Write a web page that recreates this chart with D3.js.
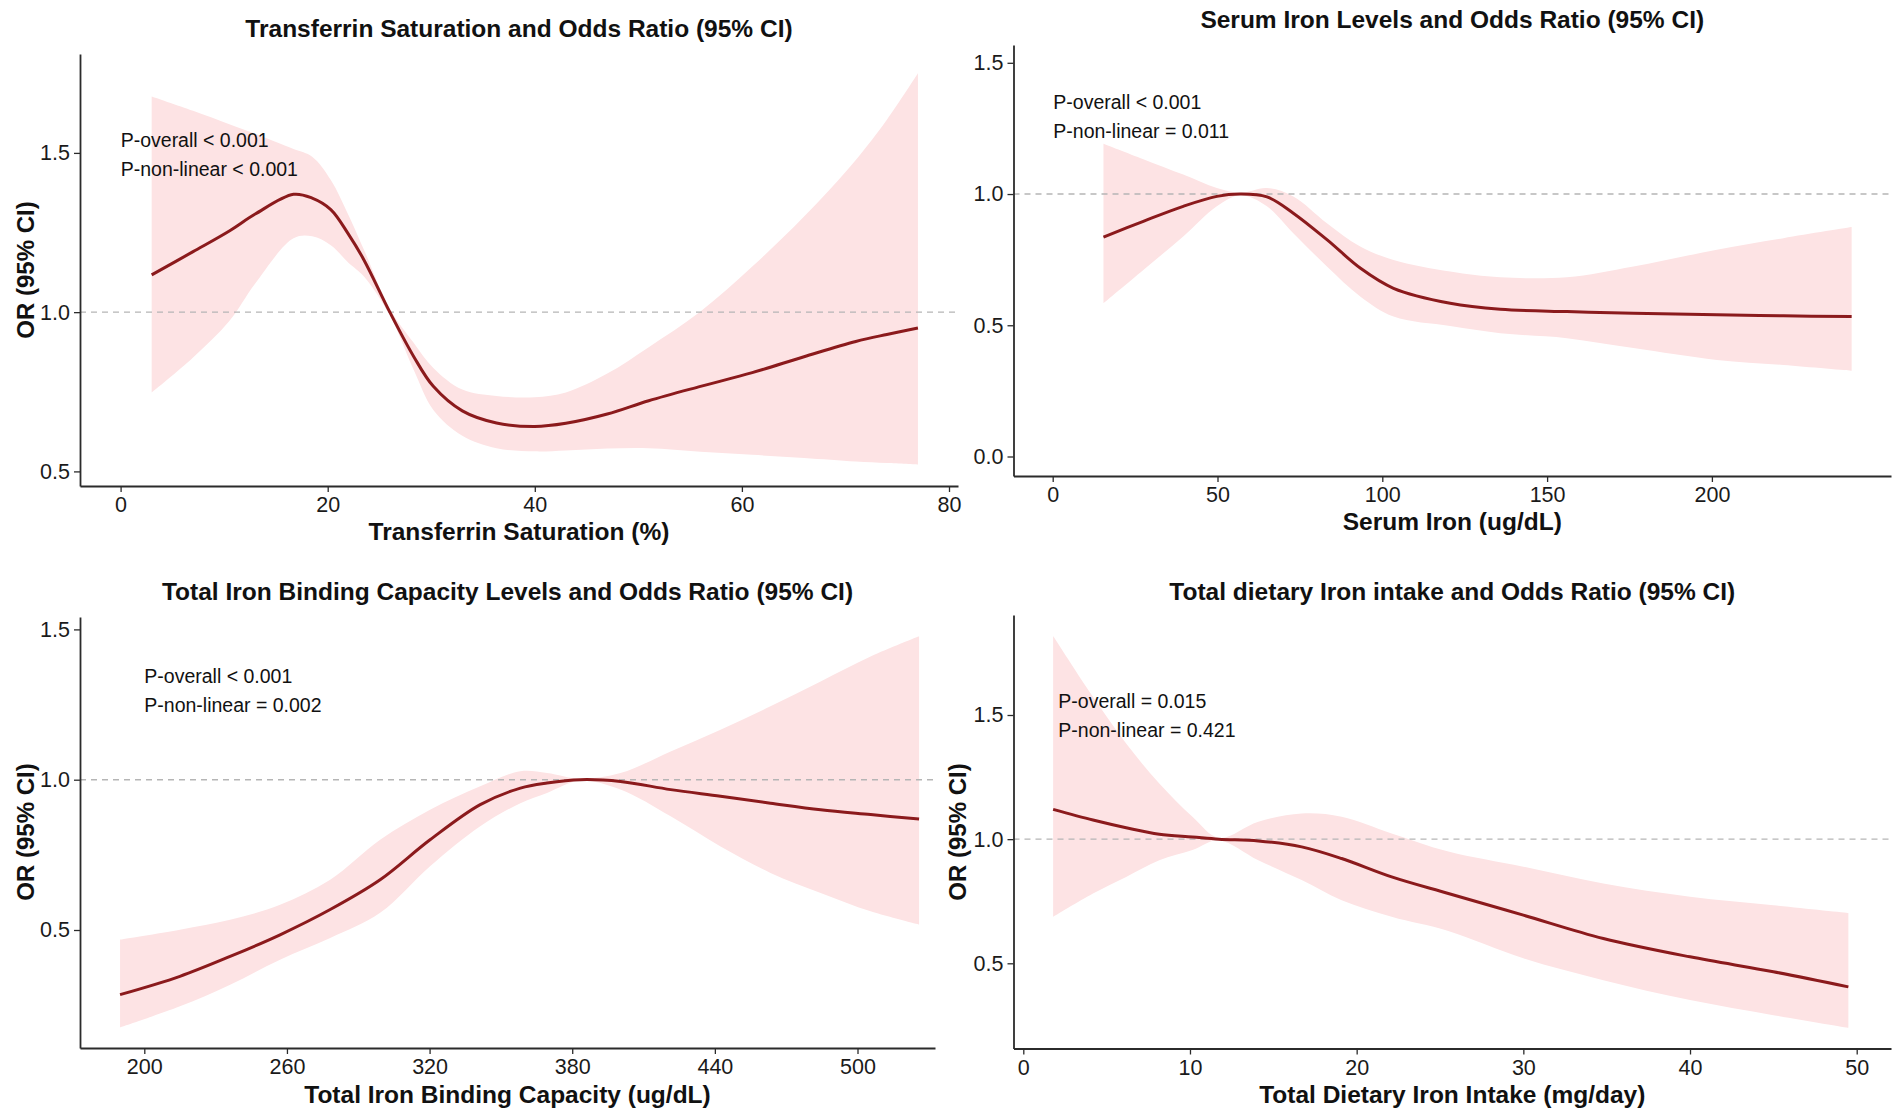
<!DOCTYPE html>
<html><head><meta charset="utf-8">
<script src="https://cdn.jsdelivr.net/npm/d3@7"></script>
<style>
html,body{margin:0;padding:0;background:#fff;}
svg{display:block;}
text{font-family:"Liberation Sans",Arial,Helvetica,sans-serif;}
</style></head>
<body>
<svg id="c" width="1902" height="1118"></svg>
<script>
// ---------- DATA ----------
// Panel 1: Transferrin Saturation
const tsatX     = [3, 7, 10.5, 13, 16.7, 18.5, 20.3, 22, 23.5, 26, 28.3, 30.2, 33, 36.3, 40, 43, 47, 51, 56, 61, 66, 71, 74, 77];
const tsatOR    = [1.117, 1.19, 1.255, 1.308, 1.370, 1.358, 1.322, 1.245, 1.164, 1.0, 0.861, 0.767, 0.690, 0.652, 0.641, 0.651, 0.680, 0.722, 0.767, 0.810, 0.860, 0.908, 0.930, 0.950];
const tsatHi    = [1.677, 1.632, 1.590, 1.560, 1.512, 1.488, 1.415, 1.305, 1.196, 1.01, 0.904, 0.825, 0.757, 0.737, 0.733, 0.748, 0.807, 0.890, 1.002, 1.143, 1.300, 1.478, 1.604, 1.750];
const tsatLo    = [0.748, 0.858, 0.972, 1.09, 1.232, 1.238, 1.210, 1.155, 1.112, 0.99, 0.819, 0.693, 0.612, 0.573, 0.563, 0.566, 0.572, 0.573, 0.562, 0.552, 0.542, 0.531, 0.526, 0.521];
const tsatXTicks = [0, 20, 40, 60, 80];
const tsatYTicks = [0.5, 1.0, 1.5];

// Panel 2: Serum Iron
const sfeX  = [15.4, 27.5, 39.6, 49.8, 57, 65, 73, 83.2, 93.3, 103.4, 120.6, 135.8, 156, 176.2, 201.5, 221.7, 242.4];
const sfeOR = [0.836, 0.896, 0.953, 0.991, 1.0, 0.989, 0.927, 0.826, 0.718, 0.641, 0.584, 0.561, 0.552, 0.546, 0.540, 0.536, 0.533];
const sfeHi = [1.192, 1.133, 1.074, 1.023, 1.005, 1.023, 0.991, 0.889, 0.800, 0.749, 0.705, 0.683, 0.683, 0.724, 0.788, 0.832, 0.874];
const sfeLo = [0.584, 0.711, 0.838, 0.953, 0.995, 0.953, 0.851, 0.724, 0.610, 0.533, 0.497, 0.470, 0.451, 0.413, 0.368, 0.349, 0.327];
const sfeXTicks = [0, 50, 100, 150, 200];
const sfeYTicks = [0.0, 0.5, 1.0, 1.5];

// Panel 3: Total Iron Binding Capacity
const tibcX  = [189.8, 215, 236.1, 257.1, 278.2, 299.2, 320.2, 341.3, 358.2, 369.4, 383.5, 400.3, 421.4, 442.4, 463.4, 484.5, 505.5, 525.9];
const tibcOR = [0.285, 0.346, 0.412, 0.484, 0.568, 0.667, 0.800, 0.917, 0.972, 0.989, 1.0, 0.994, 0.967, 0.945, 0.922, 0.900, 0.884, 0.869];
const tibcHi = [0.468, 0.501, 0.534, 0.584, 0.667, 0.800, 0.900, 0.978, 1.028, 1.022, 1.003, 1.022, 1.094, 1.166, 1.244, 1.327, 1.410, 1.477];
const tibcLo = [0.176, 0.246, 0.318, 0.401, 0.473, 0.557, 0.712, 0.845, 0.922, 0.956, 0.997, 0.967, 0.878, 0.778, 0.690, 0.623, 0.562, 0.518];
const tibcXTicks = [200, 260, 320, 380, 440, 500];
const tibcYTicks = [0.5, 1.0, 1.5];

// Panel 4: Total Dietary Iron Intake
const dietX  = [1.79, 4.18, 6.17, 8.16, 10.15, 11.74, 14.1, 16.7, 19.1, 22.1, 25.5, 30, 34.8, 40, 45, 49.5];
const dietOR = [1.120, 1.077, 1.046, 1.020, 1.009, 1.0, 0.993, 0.969, 0.922, 0.848, 0.781, 0.694, 0.600, 0.526, 0.466, 0.405];
const dietHi = [1.818, 1.573, 1.385, 1.224, 1.090, 1.005, 1.070, 1.103, 1.090, 1.023, 0.950, 0.889, 0.821, 0.768, 0.734, 0.703];
const dietLo = [0.687, 0.781, 0.848, 0.915, 0.956, 0.995, 0.915, 0.835, 0.754, 0.687, 0.630, 0.520, 0.432, 0.352, 0.291, 0.240];
const dietXTicks = [0, 10, 20, 30, 40, 50];
const dietYTicks = [0.5, 1.0, 1.5];

const titles = [
  "Transferrin Saturation and Odds Ratio (95% CI)",
  "Serum Iron Levels and Odds Ratio (95% CI)",
  "Total Iron Binding Capacity Levels and Odds Ratio (95% CI)",
  "Total dietary Iron intake and Odds Ratio (95% CI)"
];
const xTitles = [
  "Transferrin Saturation (%)",
  "Serum Iron (ug/dL)",
  "Total Iron Binding Capacity (ug/dL)",
  "Total Dietary Iron Intake (mg/day)"
];
const yTitle = "OR (95% CI)";
const pOverall   = ["P-overall < 0.001", "P-overall < 0.001", "P-overall < 0.001", "P-overall = 0.015"];
const pNonLinear = ["P-non-linear < 0.001", "P-non-linear = 0.011", "P-non-linear = 0.002", "P-non-linear = 0.421"];

// ---------- LAYOUT ----------
const panels = [
  {x: tsatX, y: tsatOR, hi: tsatHi, lo: tsatLo, xt: tsatXTicks, yt: tsatYTicks,
   box: {l: 80, r: 958, t: 54, b: 486}, xr: [[0, 80], [120.6, 949]], yr: [[0.5, 1.5], [471.4, 152.9]],
   titleY: 37, xTitleY: 540, yTitleX: 25, yTitleY: 270, ann: {x: 120.7, y: 146.7}},
  {x: sfeX, y: sfeOR, hi: sfeHi, lo: sfeLo, xt: sfeXTicks, yt: sfeYTicks,
   box: {l: 1013.5, r: 1891, t: 45, b: 476}, xr: [[0, 200], [1052.7, 1711.9]], yr: [[0, 1.5], [456.5, 62.8]],
   titleY: 28, xTitleY: 530, yTitleX: null, ann: {x: 1053.3, y: 109.3}},
  {x: tibcX, y: tibcOR, hi: tibcHi, lo: tibcLo, xt: tibcXTicks, yt: tibcYTicks,
   box: {l: 80, r: 935, t: 617, b: 1048}, xr: [[200, 500], [144.3, 857.5]], yr: [[0.5, 1.5], [930, 629.4]],
   titleY: 600, xTitleY: 1102.5, yTitleX: 25, yTitleY: 832, ann: {x: 144.3, y: 683.3}},
  {x: dietX, y: dietOR, hi: dietHi, lo: dietLo, xt: dietXTicks, yt: dietYTicks,
   box: {l: 1013.5, r: 1891, t: 615, b: 1048.5}, xr: [[0, 50], [1023.3, 1856.7]], yr: [[0.5, 1.5], [963.3, 715]],
   titleY: 600, xTitleY: 1102.5, yTitleX: 957, yTitleY: 832, ann: {x: 1058.3, y: 708.3}}
];

const svg = d3.select("#c");
const LINE = "#8b1a1c", BAND = "#fde3e4", AXIS = "#2b2b2b";
const curve = d3.curveCatmullRom.alpha(0.5);

panels.forEach((p, i) => {
  const g = svg.append("g");
  const sx0 = d3.scaleLinear().domain(p.xr[0]).range(p.xr[1]);
  const sy0 = d3.scaleLinear().domain(p.yr[0]).range(p.yr[1]);
  const sx = d3.scaleLinear().domain([sx0.invert(p.box.l), sx0.invert(p.box.r)]).range([p.box.l, p.box.r]);
  const sy = d3.scaleLinear().domain([sy0.invert(p.box.b), sy0.invert(p.box.t)]).range([p.box.b, p.box.t]);

  const rows = p.x.map((v, k) => ({x: v, y: p.y[k], hi: p.hi[k], lo: p.lo[k]}));

  // CI band
  g.append("path").datum(rows)
    .attr("d", d3.area().curve(curve).x(d => sx(d.x)).y0(d => sy(d.lo)).y1(d => sy(d.hi)))
    .attr("fill", BAND);

  // reference line at OR = 1
  g.append("line")
    .attr("x1", p.box.l).attr("x2", p.box.r).attr("y1", sy(1)).attr("y2", sy(1))
    .attr("stroke", "#b5b5b5").attr("stroke-width", 1.4).attr("stroke-dasharray", "6,5");

  // OR line
  g.append("path").datum(rows)
    .attr("d", d3.line().curve(curve).x(d => sx(d.x)).y(d => sy(d.y)))
    .attr("fill", "none").attr("stroke", LINE).attr("stroke-width", 3);

  // axes
  const ax = g.append("g").attr("transform", `translate(0,${p.box.b})`)
    .call(d3.axisBottom(sx).tickValues(p.xt).tickSize(6).tickSizeOuter(0).tickPadding(5).tickFormat(d3.format("d")));
  const ay = g.append("g").attr("transform", `translate(${p.box.l},0)`)
    .call(d3.axisLeft(sy).tickValues(p.yt).tickSize(6).tickSizeOuter(0).tickPadding(4).tickFormat(d3.format(".1f")));
  [ax, ay].forEach(a => {
    a.select(".domain").attr("stroke", AXIS).attr("stroke-width", 1.8);
    a.selectAll(".tick line").attr("stroke", AXIS).attr("stroke-width", 1.3);
    a.selectAll(".tick text").attr("fill", "#1a1a1a").style("font-size", "21.5px")
      .style("font-family", '"Liberation Sans",Arial,sans-serif');
  });

  const cx = (p.box.l + p.box.r) / 2;
  // title
  g.append("text").attr("x", cx).attr("y", p.titleY).attr("text-anchor", "middle")
    .style("font-size", "24.5px").style("font-weight", "bold").attr("fill", "#111").text(titles[i]);
  // x title
  g.append("text").attr("x", cx).attr("y", p.xTitleY).attr("text-anchor", "middle")
    .style("font-size", "24.5px").style("font-weight", "bold").attr("fill", "#111").text(xTitles[i]);
  // y title
  if (p.yTitleX !== null) {
    g.append("text").attr("transform", `translate(${p.yTitleX},${p.yTitleY}) rotate(-90)`)
      .attr("text-anchor", "middle").attr("dominant-baseline", "central")
      .style("font-size", "24px").style("font-weight", "bold").attr("fill", "#111").text(yTitle);
  }
  // annotations
  g.append("text").attr("x", p.ann.x).attr("y", p.ann.y).style("font-size", "19.5px").attr("fill", "#111").text(pOverall[i]);
  g.append("text").attr("x", p.ann.x).attr("y", p.ann.y + 28.8).style("font-size", "19.5px").attr("fill", "#111").text(pNonLinear[i]);
});
</script>
</body></html>
